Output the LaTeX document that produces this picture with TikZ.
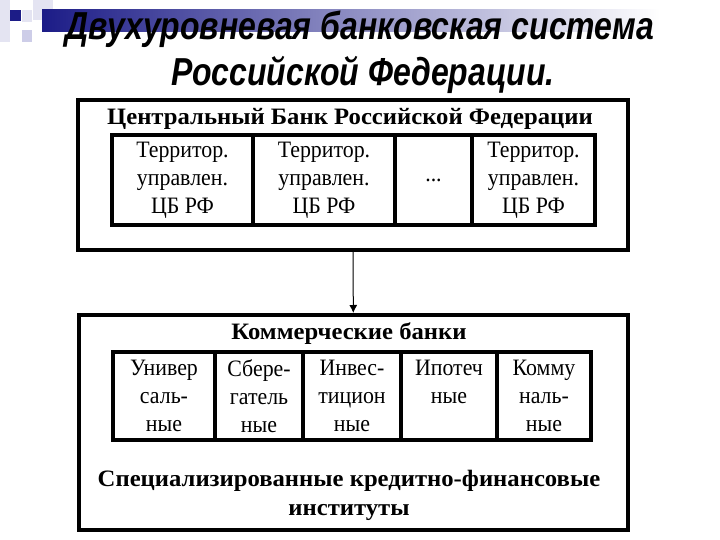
\documentclass[tikz,border=0pt]{standalone}
\usepackage{fontspec}
\setmainfont{Liberation Serif}[FakeStretch=1.05]
\newfontfamily\cellfont{Liberation Serif}[FakeStretch=0.93]
\newfontfamily\headfont{Liberation Sans}[FakeStretch=0.82]
\usepackage{xcolor}
\usepackage{tikz}
\usetikzlibrary{arrows.meta, positioning}
\definecolor{navy}{RGB}{28,28,135}
\definecolor{lavender}{RGB}{205,205,232}
\definecolor{palelav}{RGB}{228,228,242}

\begin{document}
\begin{tikzpicture}[x=1pt, y=-1pt,
        frame/.style={rectangle, draw=black, line width=4pt, inner sep=0pt, outer sep=0pt},
        cell/.style={rectangle, draw=black, line width=4pt, align=center, inner sep=0pt, outer sep=0pt, font=\cellfont\fontsize{23.5}{28}\selectfont},
        heading/.style={align=center, font=\fontsize{23.5}{29}\selectfont\bfseries},
        slidetitle/.style={align=center, font=\headfont\fontsize{39}{45}\selectfont\bfseries\itshape},
        arrow/.style={-{Latex[length=8pt, width=8pt]}, line width=1pt}
    ]
    \useasboundingbox (0,0) rectangle (720,540);
    \fill[palelav] (0,0) rectangle (10,42);
    \fill[palelav] (33,0) rectangle (53,20);
    \shade[left color=navy, right color=white] (42,10) rectangle (660,32);
    \fill[lavender] (22,30) rectangle (32,42);
    \fill[palelav] (22,10) rectangle (32,22);
    \fill[navy] (10,10) rectangle (21,21);

    \node[slidetitle] (title) at (360,29) {Двухуровневая банковская система};
    \node[slidetitle] (subtitle) at (363,75) {Российской Федерации.};

    \node[frame, minimum width=550pt, minimum height=150pt, anchor=north west] (cb) at (78,100) {};
    \node[heading] (cbname) at (350,119) {Центральный Банк Российской Федерации};
    \node[cell, minimum width=141pt, minimum height=90pt, anchor=north west] (tu1) at (112,135) {Территор.\\управлен.\\ЦБ РФ};
    \node[cell, minimum width=142pt, minimum height=90pt, right=0pt of tu1] (tu2) {Территор.\\управлен.\\ЦБ РФ};
    \node[cell, minimum width=77pt, minimum height=90pt, right=0pt of tu2] (tudots) {...};
    \node[cell, minimum width=123pt, minimum height=90pt, right=0pt of tudots] (tun) {Территор.\\управлен.\\ЦБ РФ};

    \node[frame, minimum width=549pt, minimum height=215pt, anchor=north west] (kb) at (79,315) {};
    \node[heading] (kbname) at (349,334) {Коммерческие банки};
    \node[cell, minimum width=102pt, minimum height=88pt, anchor=north west] (univ) at (113,352) {Универ\\саль-\\ные};
    \node[cell, minimum width=88pt, minimum height=88pt, right=0pt of univ] (sber) {Сбере-\\гатель\\ные};
    \node[cell, minimum width=98pt, minimum height=88pt, right=0pt of sber] (invest) {Инвес-\\тицион\\ные};
    \node[cell, minimum width=96pt, minimum height=88pt, right=0pt of invest] (ipot) {Ипотеч\\ные\\\phantom{ные}};
    \node[cell, minimum width=94pt, minimum height=88pt, right=0pt of ipot] (komm) {Комму\\наль-\\ные};
    \node[heading] (skfi) at (349,495) {Специализированные кредитно-финансовые\\институты};

    \draw[arrow, shorten <=2pt, shorten >=2pt] (cb) -- (kb);
\end{tikzpicture}
\end{document}
